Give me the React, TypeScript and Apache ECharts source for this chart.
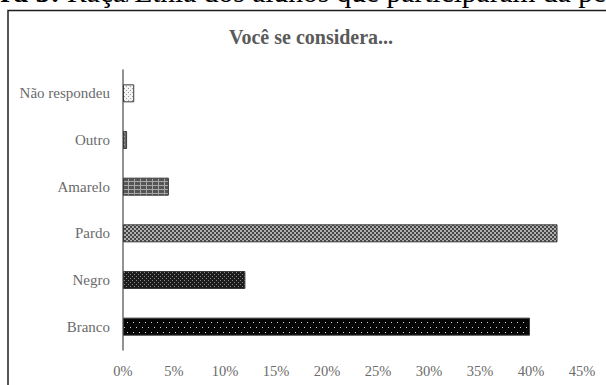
import { useEffect, useRef } from 'react';
import * as echarts from 'echarts';

// Survey answers (share of students, %), bottom-to-top order of the category axis
const categories = ['Branco', 'Negro', 'Pardo', 'Amarelo', 'Outro', 'Não respondeu'];
const values = [39.9, 12.0, 42.6, 4.5, 0.4, 1.1];
const axisMax = 45;
const axisStep = 5;

const chartTitle = 'Você se considera...';
const captionLead = 'Figura 5:';
const captionText = 'Raça/Etnia dos alunos que participaram da pesquisa';

const SERIF = 'Liberation Serif';

type Cell = [number, number, number?, number?];

// Small repeating fill tile drawn on a canvas
function tile(w: number, h: number, bg: string, fg: string, cells: Cell[]) {
  const c = document.createElement('canvas');
  c.width = w;
  c.height = h;
  const ctx = c.getContext('2d')!;
  ctx.fillStyle = bg;
  ctx.fillRect(0, 0, w, h);
  ctx.fillStyle = fg;
  cells.forEach(([x, y, cw, ch]) => ctx.fillRect(x, y, cw ?? 1, ch ?? 1));
  return { image: c, repeat: 'repeat', imageWidth: w, imageHeight: h } as any;
}

function buildFills() {
  return [
    // Branco: black with sparse white dots
    tile(6, 10, '#050505', '#d8d8d8', [[1, 2], [4, 7]]),
    // Negro: dark with fine grey dots
    tile(4, 4, '#1c1c1c', '#8a8a8a', [[0, 0], [2, 2]]),
    // Pardo: fine grey checkerboard
    tile(4, 4, '#b0b0b0', '#454545', [[0, 0, 2, 2], [2, 2, 2, 2]]),
    // Amarelo: grey with light grid
    tile(6, 4, '#555555', '#a8a8a8', [[0, 1, 6, 1], [2, 0, 1, 4]]),
    // Outro
    tile(4, 4, '#6a6a6a', '#a0a0a0', [[0, 0], [2, 2]]),
    // Não respondeu: white with light dots
    tile(4, 4, '#f4f4f4', '#9a9a9a', [[0, 0], [2, 2]]),
  ];
}

export default function App() {
  const ref = useRef<HTMLDivElement>(null);

  useEffect(() => {
    if (!ref.current) return;
    const chart = echarts.init(ref.current, null, { renderer: 'svg' });
    const fills = buildFills();

    chart.setOption({
      animation: false,
      backgroundColor: '#ffffff',
      textStyle: { fontFamily: SERIF },
      grid: { left: 123, right: 24, top: 70, bottom: 35, containLabel: false },
      xAxis: {
        type: 'value',
        min: 0,
        max: axisMax,
        interval: axisStep,
        axisLine: { show: false },
        axisTick: { show: false },
        splitLine: { show: false },
        axisLabel: {
          formatter: '{value}%',
          color: '#6b6b6b',
          fontFamily: SERIF,
          fontSize: 14.5,
          margin: 13,
        },
      },
      yAxis: {
        type: 'category',
        data: categories,
        axisLine: { show: true, lineStyle: { color: '#6e6e6e', width: 1.5 } },
        axisTick: { show: false },
        axisLabel: {
          color: '#6b6b6b',
          fontFamily: SERIF,
          fontSize: 15,
          margin: 13,
        },
      },
      series: [
        {
          type: 'bar',
          barWidth: 18,
          data: values.map((v, i) => ({
            value: v,
            itemStyle: { color: fills[i], borderColor: '#3a3a3a', borderWidth: 1 },
          })),
        },
      ],
      graphic: [
        {
          type: 'rect',
          z: -1,
          shape: { x: 8, y: 10.5, width: 700, height: 500 },
          style: { fill: 'none', stroke: '#1e1e1e', lineWidth: 1.5 },
          silent: true,
        },
        {
          type: 'text',
          x: 311,
          y: 37,
          style: {
            text: chartTitle,
            fill: '#5a5a5a',
            fontFamily: SERIF,
            fontWeight: 'bold',
            fontSize: 20,
            align: 'center',
            verticalAlign: 'middle',
          },
        },
        {
          type: 'text',
          x: -57,
          y: -8,
          style: {
            text: captionLead,
            fill: '#000000',
            fontFamily: SERIF,
            fontWeight: 'bold',
            fontSize: 29.5,
            align: 'left',
            verticalAlign: 'middle',
          },
        },
        {
          type: 'text',
          x: 67,
          y: -8,
          style: {
            text: captionText,
            fill: '#000000',
            fontFamily: SERIF,
            fontSize: 29.5,
            align: 'left',
            verticalAlign: 'middle',
          },
        },
      ],
    });

    return () => chart.dispose();
  }, []);

  return (
    <div
      ref={ref}
      style={{ position: 'absolute', left: 0, top: 0, width: 606, height: 385 }}
    />
  );
}
